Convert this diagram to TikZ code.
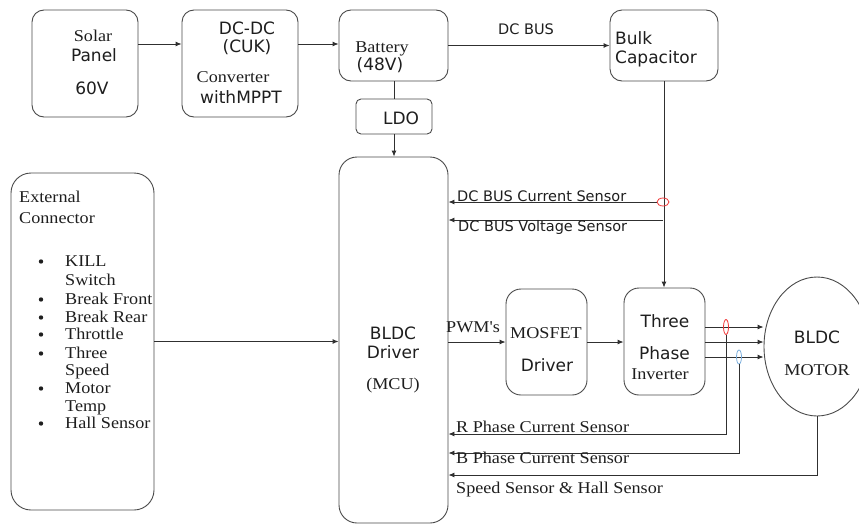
\documentclass[tikz,border=0pt]{standalone}
\usepackage{fontspec}
\usetikzlibrary{arrows.meta,shapes.geometric}
\setmainfont{Liberation Serif}
\newfontfamily\sansx{DejaVu Sans}
\newfontfamily\serifx{Liberation Serif}[FakeStretch=1.1]
\definecolor{linec}{HTML}{303030}
\definecolor{boxc}{HTML}{4A4A4A}
\definecolor{ringred}{HTML}{F03A3A}
\definecolor{ringblue}{HTML}{7AAEDC}
\definecolor{txt}{HTML}{1E1E1E}
\tikzset{
  blk/.style={draw=boxc, line width=0.9pt, rounded corners=#1, inner sep=0pt},
  blk/.default=12pt,
  wire/.style={draw=linec, line width=0.9pt},
  arr/.style={wire, -{Latex[length=6pt,width=5pt]}},
  ring/.style={ellipse, draw=#1, line width=0.8pt, inner sep=0pt},
  sbig/.style={font=\sansx\fontsize{17}{20}\selectfont, text=txt, inner sep=0pt, anchor=base},
  ssmall/.style={font=\sansx\fontsize{14.5}{17}\selectfont, text=txt, inner sep=0pt, anchor=base west},
  ser/.style={font=\serifx\fontsize{16.5}{18}\selectfont, text=txt, inner sep=0pt, anchor=base},
  serw/.style={ser, anchor=base west},
}
\begin{document}
\begin{tikzpicture}[x=1pt,y=-1pt]
\clip (0,0) rectangle (859,525);
\fill[white] (0,0) rectangle (859,525);

% ---- blocks ----
\node[blk, minimum width=106pt, minimum height=107pt] (solar) at (85,63.5) {};
\node[blk, minimum width=116pt, minimum height=107pt] (dcdc) at (240,63.5) {};
\node[blk, minimum width=109pt, minimum height=71pt] (batt) at (393.5,45.5) {};
\node[blk, minimum width=108pt, minimum height=71pt] (bulk) at (664,45.5) {};
\node[blk=5pt, minimum width=76pt, minimum height=35pt] (ldo) at (394,116.5) {};
\node[blk=18pt, minimum width=109pt, minimum height=366pt] (mcu) at (393.5,340) {};
\node[blk=20pt, minimum width=143pt, minimum height=337pt] (ext) at (82.5,341.5) {};
\node[blk=15pt, minimum width=81pt, minimum height=106pt] (mosfet) at (546.5,342) {};
\node[blk=15pt, minimum width=81pt, minimum height=107pt] (inv) at (664.5,341.5) {};
\node[ellipse, draw=boxc, line width=0.9pt, inner sep=0pt, minimum width=106pt, minimum height=139pt] (motor) at (817,346.5) {};

% ---- block texts ----
\node[ser] (tsolar) at (93,41.5) {Solar};
\node[sbig] (tpanel) at (94,61) {Panel};
\node[sbig] (t60v) at (92,94) {60V};
\node[sbig] (tdcdc) at (247,34) {DC-DC};
\node[sbig] (tcuk) at (247,52) {(CUK)};
\node[ser] (tconv) at (233,82.5) {Converter};
\node[sbig] (tmppt) at (241,103) {withMPPT};
\node[ser] (tbatt) at (382,52) {Battery};
\node[sbig] (t48) at (380,70) {(48V)};
\node[sbig, anchor=base west] (tbulk) at (615,44) {Bulk};
\node[sbig, anchor=base west] (tcap) at (615,63) {Capacitor};
\node[sbig] (tldo) at (401,124) {LDO};
\node[sbig] (tbldc) at (393,339) {BLDC};
\node[sbig] (tdrv) at (393,358) {Driver};
\node[ser] (tmcu) at (393,389) {(MCU)};
\node[ser] (tmos) at (546,338.5) {MOSFET};
\node[sbig] (tmdrv) at (547,371) {Driver};
\node[sbig] (tthree) at (665,327) {Three};
\node[sbig] (tphase) at (664.5,359) {Phase};
\node[ser] (tinv) at (660,379.5) {Inverter};
\node[sbig] (tmbldc) at (817,343) {BLDC};
\node[ser] (tmotor) at (817,375) {MOTOR};

% ---- external connector list ----
\node[serw] (text1) at (19,202.5) {External};
\node[serw] (text2) at (19,223.5) {Connector};
\node[serw] (i1) at (65,266) {KILL};
\node[serw] (i1b) at (65,285) {Switch};
\node[serw] (i2) at (65,304.5) {Break Front};
\node[serw] (i3) at (65,322.5) {Break Rear};
\node[serw] (i4) at (65,339.5) {Throttle};
\node[serw] (i5) at (65,358.5) {Three};
\node[serw] (i5b) at (65,375.5) {Speed};
\node[serw] (i6) at (65,393.5) {Motor};
\node[serw] (i6b) at (65,411.5) {Temp};
\node[serw] (i7) at (65,428.5) {Hall Sensor};
\foreach \yy in {261.5,299.5,317.5,334.5,353.5,388.5,423.5}
  \fill[txt] (41,\yy) circle (2.2pt);

% ---- power path ----
\coordinate (s1) at ([yshift=19.5pt]solar.east);
\coordinate (s2) at ([yshift=19.5pt]dcdc.east);
\draw[arr] (s1) -- (s1 -| dcdc.west);
\draw[arr] (s2) -- (s2 -| batt.west);
\draw[arr] (batt.east) -- (batt.east -| bulk.west);
\node[ssmall, anchor=base] (tbus) at (526,34) {DC BUS};
\draw[wire] (ldo.north |- batt.south) -- (ldo.north);
\draw[arr] (ldo.south) -- (ldo.south |- mcu.north);
\draw[arr] (bulk.south) -- (bulk.south |- inv.north);

% ---- DC bus sensing ----
\node[ring=ringred, minimum width=12pt, minimum height=8pt] (ics) at (663,202) {};
\coordinate (vs) at (663,220);
\draw[arr] (ics.west) -- (ics.west -| mcu.east);
\draw[arr] (vs) -- (vs -| mcu.east);
\node[ssmall] (lcs) at (457,201) {DC BUS Current Sensor};
\node[ssmall] (lvs) at (458,231) {DC BUS Voltage Sensor};

% ---- drive path ----
\draw[arr] (ext.east) -- (ext.east -| mcu.west);
\draw[arr] (mcu.east |- mosfet.west) -- (mosfet.west);
\node[serw] (lpwm) at (446,332.5) {PWM's};
\draw[arr] (mosfet.east) -- (mosfet.east -| inv.west);

\coordinate (o1) at ([yshift=14.5pt]inv.east);
\coordinate (o2) at ([yshift=-0.5pt]inv.east);
\coordinate (o3) at ([yshift=-15.5pt]inv.east);
\draw[arr] (o1) -- (o1 -| motor.west);
\draw[arr] (o2) -- (o2 -| motor.west);
\draw[arr] (o3) -- (o3 -| motor.west);

% ---- phase current and speed feedback ----
\node[ring=ringred, minimum width=5pt, minimum height=15pt] (rr) at (726,327) {};
\node[ring=ringblue, minimum width=5pt, minimum height=14pt] (rb) at (739,357) {};
\coordinate (yR) at (0,434);
\coordinate (yB) at (0,453);
\coordinate (yS) at (0,475);
\draw[arr] (rr.south) |- (mcu.east |- yR);
\draw[arr] (rb.south) |- (mcu.east |- yB);
\draw[arr] (motor.south) |- (mcu.east |- yS);
\node[serw] (lr) at (456,432.5) {R Phase Current Sensor};
\node[serw] (lb) at (456,463.5) {B Phase Current Sensor};
\node[serw] (ls) at (456,493.5) {Speed Sensor \& Hall Sensor};
\end{tikzpicture}
\end{document}
